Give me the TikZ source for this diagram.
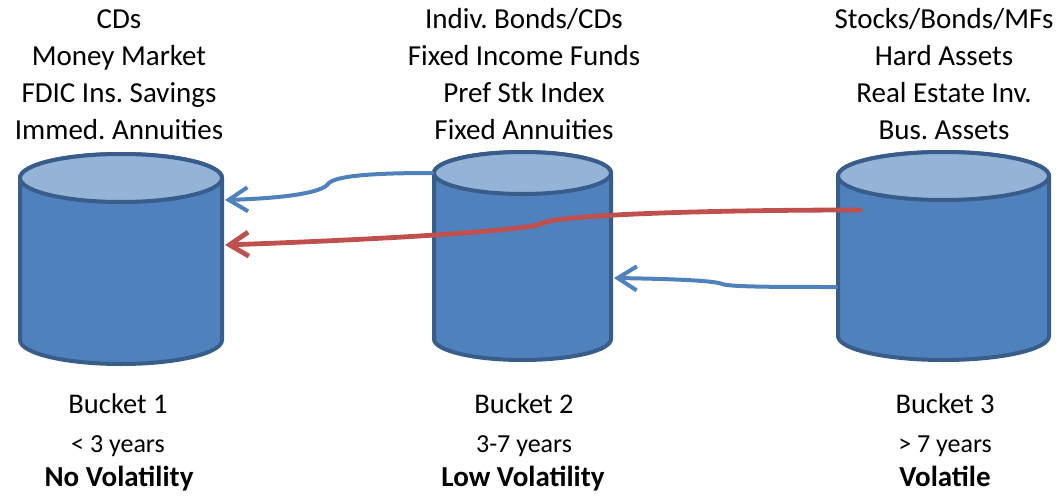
\documentclass[tikz,border=0pt]{standalone}
\usepackage{fontspec}
\setmainfont{Carlito}
\usetikzlibrary{arrows.meta}
\definecolor{bucketblue}{HTML}{4F81BD}
\definecolor{buckettop}{HTML}{95B3D7}
\definecolor{bucketline}{HTML}{385D8A}
\definecolor{flowred}{HTML}{C0504D}
\newcommand{\bucketdraw}[3]{%
    \filldraw[fill=bucketblue, draw=bucketline, line width=4pt, line join=round]
        ([yshift=-#3]#1.north west) -- ([yshift=#3]#1.south west)
        arc[start angle=180, end angle=360, x radius=#2, y radius=#3]
        -- ([yshift=-#3]#1.north east)
        arc[start angle=0, end angle=180, x radius=#2, y radius=#3] -- cycle;
    \filldraw[fill=buckettop, draw=bucketline, line width=4pt]
        ([yshift=-#3]#1.north) ellipse[x radius=#2, y radius=#3];}

\begin{document}
\frenchspacing
\begin{tikzpicture}[x=1pt, y=-1pt,
    bucket/.style={rectangle, inner sep=0pt, outer sep=0pt},
    flow/.style={-{Straight Barb[length=19pt,width=24pt]}, line width=4pt, line cap=round},
    toplist/.style={anchor=north, align=center, inner sep=0pt, font=\fontsize{29}{37.2}\selectfont},
    bname/.style={anchor=base, inner sep=0pt, font=\fontsize{28.5}{34}\selectfont},
    byears/.style={anchor=base, inner sep=0pt, font=\fontsize{26}{31}\selectfont},
    bvol/.style={anchor=base, inner sep=0pt, font=\fontsize{29}{35}\bfseries}]
        \useasboundingbox (0,0) rectangle (1062,495);
        \node[bucket, minimum width=202pt, minimum height=210pt] (b1) at (121,259) {};
        \node[bucket, minimum width=177pt, minimum height=208pt] (b2) at (522.5,256) {};
        \node[bucket, minimum width=211pt, minimum height=208pt] (b3) at (943.5,256) {};
        \bucketdraw{b1}{101pt}{24pt}
        \bucketdraw{b2}{88.5pt}{21pt}
        \bucketdraw{b3}{105.5pt}{24pt}
        \node[toplist] (t1) at (119,2) {\strut CDs\\Money Market\\FDIC Ins. Savings\\Immed. Annuities};
        \node[toplist] (t2) at (524,2) {\strut Indiv. Bonds/CDs\\Fixed Income Funds\\Pref Stk Index\\Fixed Annuities};
        \node[toplist] (t3) at (944,2) {\strut Stocks/Bonds/MFs\\Hard Assets\\Real Estate Inv.\\Bus. Assets};
        \node[bname] (n1) at (118,413) {Bucket 1};
        \node[byears] (y1) at (118,452) {< 3 years};
        \node[bvol] (v1) at (119,486) {No Volatility};
        \node[bname] (n2) at (524,413) {Bucket 2};
        \node[byears] (y2) at (524,452) {3-7 years};
        \node[bvol] (v2) at (523,486) {Low Volatility};
        \node[bname] (n3) at (945,413) {Bucket 3};
        \node[byears] (y3) at (945,452) {> 7 years};
        \node[bvol] (v3) at (945,486) {Volatile};
        \draw[flow, bucketblue] ([xshift=-2pt,yshift=83pt]b2.west) .. controls (370,173) and (334,176) .. (328,184)
            .. controls (322,192) and (290,198) .. ([xshift=3pt,yshift=59pt]b1.east);
        \draw[flow, flowred, line width=4.8pt] ([xshift=22pt,yshift=46pt]b3.west) .. controls (700,210) and (560,215) .. (543,223)
            .. controls (536,229) and (420,238) .. ([xshift=3pt,yshift=14pt]b1.east);
        \draw[flow, bucketblue] ([xshift=-2pt,yshift=-31pt]b3.west) .. controls (780,287) and (730,287) .. (722,284)
            .. controls (716,281) and (680,279) .. ([xshift=3pt,yshift=-22pt]b2.east);
    \end{tikzpicture}
\end{document}
